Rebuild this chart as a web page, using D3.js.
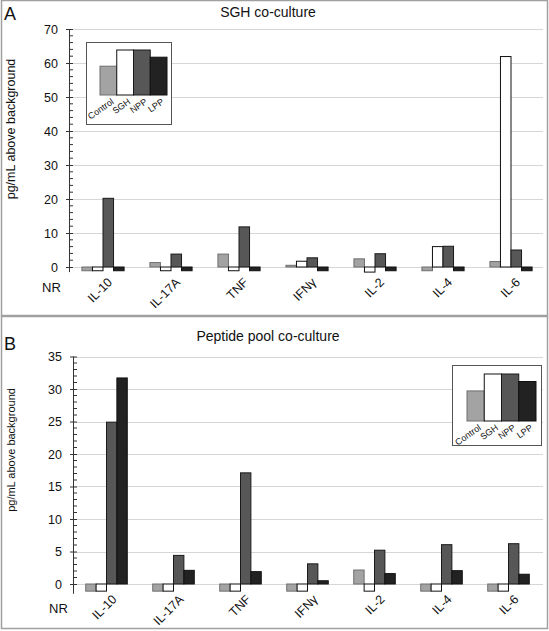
<!DOCTYPE html>
<html><head><meta charset="utf-8">
<script src="https://cdn.jsdelivr.net/npm/d3@7"></script>
<style>body{margin:0;background:#fff}svg{display:block;font-family:"Liberation Sans",Arial,sans-serif}</style>
</head><body>
<svg id="chart" width="549" height="631"></svg>
<script>
const categories = ["IL-10","IL-17A","TNF","IFNγ","IL-2","IL-4","IL-6"];
const series = ["Control","SGH","NPP","LPP"];
const NR = -1.1;
// Panel A: SGH co-culture
const sghControl = [NR, 1.3, 3.8, 0.5, 2.4, NR, 1.6];
const sghSGH     = [NR, NR, NR, 1.7, -1.5, 6.0, 61.9];
const sghNPP     = [20.2, 3.8, 11.8, 2.7, 3.9, 6.1, 5.0];
const sghLPP     = [NR, NR, NR, NR, NR, NR, NR];
// Panel B: Peptide pool co-culture
const pepControl = [NR, NR, NR, NR, 2.15, NR, NR];
const pepSGH     = [NR, NR, NR, NR, NR, NR, NR];
const pepNPP     = [24.9, 4.4, 17.1, 3.1, 5.2, 6.05, 6.2];
const pepLPP     = [31.7, 2.1, 1.9, 0.5, 1.6, 2.05, 1.5];
const ticksA = [0,10,20,30,40,50,60,70];
const ticksB = [0,5,10,15,20,25,30,35];
const legendIcon = [0.64, 1, 1, 0.84];

const fills = {Control:"#a3a3a3", SGH:"#ffffff", NPP:"#575757", LPP:"#222222"};
const strokes = {Control:"#6e6e6e", SGH:"#111111", NPP:"#1a1a1a", LPP:"#111111"};

const svg = d3.select("#chart");
svg.append("rect").attr("x",0).attr("y",0).attr("width",549).attr("height",631).attr("fill","#fff");
svg.append("rect").attr("x",1.5).attr("y",0.5).attr("width",546).attr("height",315).attr("fill","none").attr("stroke","#a0a0a0").attr("stroke-width",1.5);
svg.append("rect").attr("x",1.5).attr("y",316.5).attr("width",546).attr("height",312).attr("fill","none").attr("stroke","#a0a0a0").attr("stroke-width",1.5);

function panel(cfg){
  const g = svg.append("g");
  const x = d3.scaleBand().domain(categories).range([cfg.x0, cfg.x1]).paddingInner(0.38).paddingOuter(0.19);
  const xs = d3.scaleBand().domain(series).range([0, x.bandwidth()]);
  const y = d3.scaleLinear().domain([-1.5, cfg.max]).range([cfg.yZero + 1.5*cfg.ppu, cfg.yZero - cfg.max*cfg.ppu]);
  g.append("g").selectAll("line").data(cfg.ticks).join("line")
    .attr("x1", cfg.x0).attr("x2", cfg.gridEnd)
    .attr("y1", d=>Math.round(y(d))+0.5).attr("y2", d=>Math.round(y(d))+0.5)
    .attr("stroke","#d6d6d6").attr("stroke-width",1.2);
  const data = [];
  categories.forEach((c,i)=>series.forEach((s,j)=>data.push({c, s, v: cfg.values[j][i]})));
  g.append("g").selectAll("rect").data(data).join("rect")
    .attr("x", d=>x(d.c)+xs(d.s))
    .attr("width", xs.bandwidth())
    .attr("y", d=>Math.min(y(d.v), y(0)))
    .attr("height", d=>Math.abs(y(d.v)-y(0)))
    .attr("fill", d=>fills[d.s]).attr("stroke", d=>strokes[d.s]).attr("stroke-width",1);
  const axis = g.append("g").attr("transform",`translate(${cfg.x0},0)`)
    .call(d3.axisLeft(y).tickValues(cfg.ticks).tickSize(4).tickPadding(7).tickFormat(d3.format("d")));
  axis.select(".domain").remove();
  axis.selectAll(".tick line").attr("x2",-3).attr("x1",4).attr("stroke","#333");
  axis.selectAll(".tick text").attr("font-size",12.5).attr("fill","#111").attr("font-family","Liberation Sans, Arial, sans-serif");
  g.append("line").attr("x1",cfg.x0+0.5).attr("x2",cfg.x0+0.5).attr("y1",y(cfg.max)).attr("y2",y(-1.5)).attr("stroke","#333");
  const minor = d3.range(0, cfg.max, cfg.minor).filter(v=>!cfg.ticks.includes(v));
  g.append("g").selectAll("line").data(minor).join("line")
    .attr("x1",cfg.x0).attr("x2",cfg.x0+4).attr("y1",d=>y(d)).attr("y2",d=>y(d)).attr("stroke","#333");
  g.append("g").selectAll("text").data(categories).join("text")
    .attr("transform", d=>`translate(${x(d)+x.bandwidth()/2+cfg.lblDx},${cfg.lblY}) rotate(-45)`)
    .attr("text-anchor","end").attr("font-size",12.5).attr("fill","#111").text(d=>d);
  g.append("text").attr("x",cfg.nrX).attr("y",cfg.nrY).attr("font-size",13).attr("fill","#111").text("NR");
  g.append("text").attr("x",268).attr("y",cfg.titleY).attr("text-anchor","middle").attr("font-size",14).attr("fill","#111").text(cfg.title);
  g.append("text").attr("x",4).attr("y",cfg.letterY).attr("font-size",18).attr("fill","#111").text(cfg.letter);
  g.append("text").attr("transform",`translate(${cfg.ylabX},${cfg.ylabY}) rotate(-90)`).attr("text-anchor","middle")
    .attr("font-size",cfg.ylabSize).attr("fill","#111").text("pg/mL above background");
  const L = cfg.legend;
  const lg = g.append("g").attr("transform",`translate(${L.x},${L.y})`);
  lg.append("rect").attr("x",0.5).attr("y",0.5).attr("width",L.w).attr("height",L.h).attr("fill","#fff").attr("stroke","#555");
  const lx = d3.scaleBand().domain(series).range([L.bx, L.bx+L.bw]);
  const ly = d3.scaleLinear().domain([0,1]).range([L.by, L.by - L.bh]);
  lg.selectAll("rect.icon").data(series).join("rect").attr("class","icon")
    .attr("x", s=>lx(s)).attr("width", lx.bandwidth())
    .attr("y", (s,i)=>ly(legendIcon[i])).attr("height", (s,i)=>L.by-ly(legendIcon[i]))
    .attr("fill", s=>fills[s]).attr("stroke", s=>strokes[s]);
  lg.selectAll("text").data(series).join("text")
    .attr("transform", s=>`translate(${lx(s)+lx.bandwidth()/2+6},${L.by+8}) rotate(-35)`)
    .attr("text-anchor","end").attr("font-size",9).attr("fill","#111").text(s=>s);
}

panel({
  values:[sghControl, sghSGH, sghNPP, sghLPP], ticks:ticksA, max:70, minor:2,
  x0:69, x1:545, gridEnd:543, yZero:267, ppu:3.4,
  lblDx:10, lblY:283, nrX:42, nrY:292,
  title:"SGH co-culture", titleY:17, letter:"A", letterY:20,
  ylabX:15, ylabY:129, ylabSize:12.5,
  legend:{x:86, y:42, w:85, h:82, bx:14, bw:67, by:53, bh:45}
});
panel({
  values:[pepControl, pepSGH, pepNPP, pepLPP], ticks:ticksB, max:35, minor:1,
  x0:73, x1:542, gridEnd:543, yZero:584, ppu:6.5,
  lblDx:11, lblY:600, nrX:49, nrY:613,
  title:"Peptide pool co-culture", titleY:341, letter:"B", letterY:350,
  ylabX:15, ylabY:450, ylabSize:11,
  legend:{x:452, y:365, w:89, h:80, bx:15, bw:69, by:56, bh:47}
});
</script>
</body></html>
